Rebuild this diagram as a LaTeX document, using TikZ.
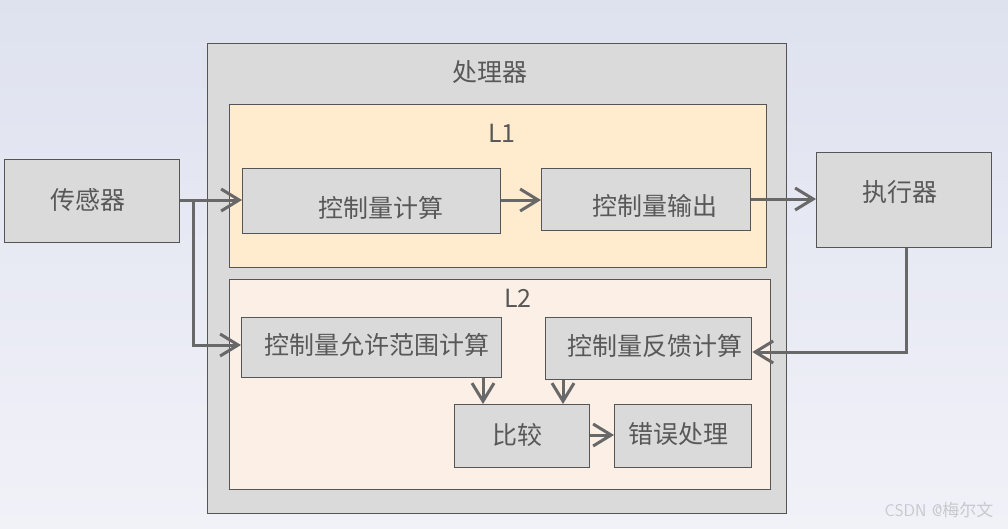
\documentclass[tikz,border=0pt]{standalone}
\usepackage{fontspec}
\setmainfont{Liberation Sans}
\newfontfamily\cjk{Noto Sans CJK SC}
\usetikzlibrary{arrows.meta}
\definecolor{bgtop}{RGB}{222,226,239}
\definecolor{bgbot}{RGB}{241,241,248}
\definecolor{boxgray}{RGB}{218,218,218}
\definecolor{edgegray}{RGB}{85,85,85}
\definecolor{lone}{RGB}{255,236,206}
\definecolor{ltwo}{RGB}{252,239,230}
\definecolor{txt}{RGB}{88,88,88}
\definecolor{arr}{RGB}{104,104,104}
\tikzset{
  box/.style={draw=edgegray, line width=1.3pt, fill=boxgray, inner sep=0pt, anchor=north west},
  area/.style={draw=edgegray, line width=1.3pt, inner sep=0pt, anchor=north west},
  lab/.style={font=\cjk\fontsize{25}{28}\selectfont, text=txt, inner sep=0pt},
  conn/.style={draw=arr, line width=3pt, -{Straight Barb[length=18pt,width=22pt,line width=3pt]}}
}
\begin{document}
\begin{tikzpicture}[x=1pt,y=-1pt]
\shade[top color=bgtop, bottom color=bgbot] (0,0) rectangle (1008,528);
\useasboundingbox (0,0) rectangle (1008,528);
% processor
\node[area, fill=boxgray, minimum width=579pt, minimum height=470pt] (proc) at (207,43) {};
\node[lab] (proclab) at (490,72) {处理器};
\node[area, fill=lone, minimum width=537pt, minimum height=163pt] (l1) at (229,104) {};
\node[lab] (l1lab) at (502,133) {L1};
\node[area, fill=ltwo, minimum width=541pt, minimum height=210pt] (l2) at (229,279) {};
\node[lab] (l2lab) at (518,298) {L2};
% boxes
\node[box, minimum width=175pt, minimum height=83pt] (sensor) at (4,159) {};
\node[lab] (sensorlab) at (88,200) {传感器};
\node[box, minimum width=258pt, minimum height=65pt] (calc) at (242,168) {};
\node[lab] (calclab) at (381,208) {控制量计算};
\node[box, minimum width=209pt, minimum height=62pt] (out) at (541,168) {};
\node[lab] (outlab) at (655,206) {控制量输出};
\node[box, minimum width=175pt, minimum height=95pt] (act) at (816,152) {};
\node[lab] (actlab) at (900,192) {执行器};
\node[box, minimum width=260pt, minimum height=60pt] (range) at (241,317) {};
\node[lab] (rangelab) at (377,345) {控制量允许范围计算};
\node[box, minimum width=206pt, minimum height=62pt] (fb) at (545,317) {};
\node[lab] (fblab) at (655,346) {控制量反馈计算};
\node[box, minimum width=135pt, minimum height=63pt] (cmp) at (454,404) {};
\node[lab] (cmplab) at (517,435) {比较};
\node[box, minimum width=137pt, minimum height=63pt] (err) at (614,404) {};
\node[lab] (errlab) at (678,434) {错误处理};
\node[font=\sffamily\fontsize{17}{19}\selectfont, text={rgb,255:red,200;green,200;blue,205}, inner sep=0pt] (wm) at (939,510) {CSDN @{\cjk 梅尔文}};
% connectors
\coordinate (split) at (193,200);
\draw[conn] (sensor.east |- split) -- (calc.west |- split);
\draw[conn] (split) -- (193,345) -- (range.west |- 0,345);
\draw[conn] (calc.east |- 0,200) -- (out.west |- 0,200);
\draw[conn] (out.east |- 0,199) -- (act.west |- 0,199);
\draw[conn] (act.south -| 906,0) -- (906,352) -- (fb.east |- 0,352);
\draw[conn] (range.south -| 483,0) -- (cmp.north -| 483,0);
\draw[conn] (fb.south -| 563,0) -- (cmp.north -| 563,0);
\draw[conn] (cmp.east |- 0,435) -- (err.west |- 0,435);
\end{tikzpicture}
\end{document}
